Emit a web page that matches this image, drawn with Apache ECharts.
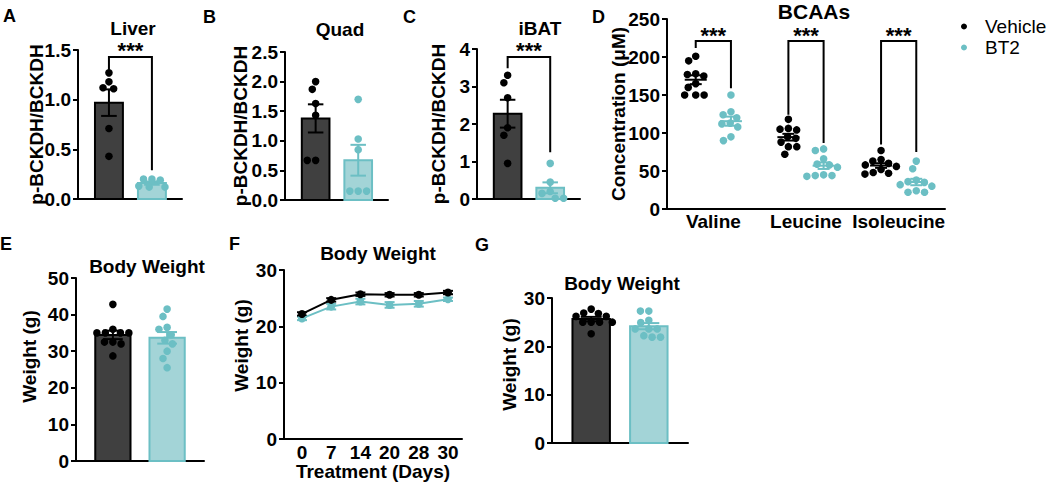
<!DOCTYPE html>
<html><head><meta charset="utf-8">
<script src="https://cdn.jsdelivr.net/npm/echarts@6/dist/echarts.min.js"></script>
<style>html,body{margin:0;padding:0;background:#fff}#c{width:1050px;height:484px}</style>
</head><body><div id="c"></div>
<script>
// ---------------- data ----------------
const groupNames = ['Vehicle', 'BT2'];
const liverVehicle = [1.27, 1.18, 1.11, 1.12, 0.71, 0.43];
const liverBT2 = [0.19, 0.20, 0.20, 0.12, 0.12, 0.13];
const quadVehicle = [2.0, 1.87, 1.63, 1.43, 0.67, 0.67];
const quadBT2 = [1.7, 1.03, 0.85, 0.15, 0.15, 0.15];
const ibatVehicle = [3.3, 3.1, 2.7, 1.9, 1.7, 0.95];
const ibatBT2 = [0.95, 0.45, 0.2, 0.15, 0.02, 0.02];
const bcaaCategories = ['Valine', 'Leucine', 'Isoleucine'];
const valineVehicle = [201, 195, 178, 177, 175, 165, 160, 150, 150, 150];
const valineBT2 = [150, 128, 124, 120, 113, 112, 108, 95, 90];
const leucineVehicle = [118, 106, 105, 104, 95, 93, 88, 82, 82, 72];
const leucineBT2 = [79, 77, 66, 59, 58, 55, 45, 44, 43, 44];
const isoleucineVehicle = [77, 65, 63, 60, 58, 56, 52, 48, 47, 46];
const isoleucineBT2 = [63, 53, 38, 36, 35, 32, 30, 24, 22, 22];
const bodyWeightEVehicle = [42.8, 36, 35, 35, 35, 35, 32.5, 32.5, 32, 28.7];
const bodyWeightEBT2 = [41.5, 39.5, 36.5, 36, 34.5, 33, 32, 30, 28, 25.5];
const treatmentDays = ['0', '7', '14', '20', '28', '30'];
const weightVehicleMean = [22.2, 24.7, 25.7, 25.6, 25.6, 26.0];
const weightVehicleSem = [0.3, 0.3, 0.3, 0.3, 0.3, 0.3];
const weightBT2Mean = [21.4, 23.5, 24.4, 23.8, 24.0, 24.8];
const weightBT2Sem = [0.3, 0.5, 0.5, 0.5, 0.5, 0.3];
const bodyWeightGVehicle = [27.7, 26.8, 26.9, 26.2, 26.2, 25, 25, 25, 25, 22.6];
const bodyWeightGBT2 = [27.3, 27.3, 25.4, 24.9, 23.6, 23.6, 23.6, 21.9, 22.2, 21.9];
// significance brackets: [bracket top, left arm end, right arm end] (data units)
const sigLiver = [1.43, 1.30, 0.29];
const sigIbat = [3.79, 3.49, 1.25];
const sigBcaa = [[221, 212, 159], [221, 124, 87], [221, 85, 75]];
const sigLabel = '***';

// ---------------- helpers ----------------
const FONT = '"Liberation Sans", Arial, sans-serif';
const TEAL = '#6cbfc4', TEAL_FILL = '#a3d4d7', DARK = '#404040';
const R = 3.8;
function mean(a) { return a.reduce((s, v) => s + v, 0) / a.length; }
function sem(a) { const m = mean(a); return Math.sqrt(a.reduce((s, v) => s + (v - m) * (v - m), 0) / (a.length - 1)) / Math.sqrt(a.length); }
function swarm(ys, cx, r) {
  const d = 2 * r + 0.8;
  const order = ys.map((y, i) => i).sort((a, b) => ys[a] - ys[b]);
  const placed = [], xs = new Array(ys.length);
  for (const i of order) {
    const y = ys[i];
    const near = placed.filter(p => Math.abs(p.y - y) < d);
    const cands = [cx];
    near.forEach(p => { const dx = Math.sqrt(d * d - (p.y - y) * (p.y - y)); cands.push(p.x - dx, p.x + dx); });
    cands.sort((a, b) => (Math.abs(a - cx) - Math.abs(b - cx)) || (a - b));
    let x = cx;
    for (const c of cands) { if (near.every(p => (p.x - c) * (p.x - c) + (p.y - y) * (p.y - y) >= d * d - 0.01)) { x = c; break; } }
    placed.push({ x, y }); xs[i] = x;
  }
  return xs;
}
function ln(x1, y1, x2, y2, color) {
  return { type: 'line', shape: { x1, y1, x2, y2 }, style: { stroke: color, lineWidth: 2 } };
}
const axisFont = { fontSize: 19, fontWeight: 'bold', fontFamily: FONT, color: '#000' };
function yAxisCfg(gi, max, interval, name, gap, fmt, pad) {
  return {
    type: 'value', gridIndex: gi, min: 0, max, interval,
    name, nameLocation: 'middle', nameGap: gap, nameMoveOverlap: false,
    nameTextStyle: Object.assign({}, axisFont, { padding: pad || 0 }),
    axisLine: { show: true, onZero: false, lineStyle: { color: '#000', width: 2 } },
    axisTick: { show: true, length: 5, lineStyle: { color: '#000', width: 2 } },
    axisLabel: Object.assign({}, axisFont, { margin: 7, formatter: fmt }),
    splitLine: { show: false }
  };
}
function barXAxis(gi, min, max) {
  return { type: 'value', gridIndex: gi, min, max,
    axisLine: { onZero: false, lineStyle: { color: '#000', width: 2 } },
    axisTick: { show: false }, axisLabel: { show: false }, splitLine: { show: false } };
}
function barSeries(gi, sets) {
  return {
    type: 'custom', name: 'bars' + gi, xAxisIndex: gi, yAxisIndex: gi, z: 3,
    data: sets.map((s, i) => [i, mean(s)]),
    renderItem: (params, api) => {
      const i = params.dataIndex, vals = sets[i];
      const m = mean(vals), s = sem(vals);
      const b = api.coord([i, 0]), t = api.coord([i, m]);
      const w = api.size([0.65, 0])[0];
      const hi = api.coord([i, m + s])[1], lo = api.coord([i, m - s])[1];
      const cw = w * 0.28;
      const col = i === 0 ? '#000' : TEAL;
      const ch = [
        { type: 'rect', shape: { x: b[0] - w / 2, y: t[1], width: w, height: b[1] - t[1] },
          style: { fill: i === 0 ? DARK : TEAL_FILL, stroke: col, lineWidth: 2 } },
        ln(b[0], hi, b[0], lo, col), ln(b[0] - cw, hi, b[0] + cw, hi, col), ln(b[0] - cw, lo, b[0] + cw, lo, col)
      ];
      const ys = vals.map(v => api.coord([i, v])[1]);
      const xs = swarm(ys, b[0], R);
      ys.forEach((y, k) => ch.push({ type: 'circle', shape: { cx: xs[k], cy: y, r: R }, style: { fill: col } }));
      return { type: 'group', children: ch };
    }
  };
}
function sigSeries(gi, brackets, sideFrac) {
  return {
    type: 'custom', name: 'sig' + gi, xAxisIndex: gi, yAxisIndex: gi, z: 5,
    data: brackets.map((b, i) => [i, b[0]]),
    renderItem: (params, api) => {
      const i = params.dataIndex, br = brackets[i];
      let xl, xr;
      if (sideFrac) {
        const c = api.coord([i, br[0]])[0], band = api.size([1, 0])[0];
        xl = c - band * sideFrac; xr = c + band * sideFrac;
      } else {
        xl = api.coord([0, br[0]])[0]; xr = api.coord([1, br[0]])[0];
      }
      const yt = api.coord([0, br[0]])[1], yl = api.coord([0, br[1]])[1], yr = api.coord([0, br[2]])[1];
      return { type: 'group', children: [
        { type: 'polyline', shape: { points: [[xl, yl], [xl, yt], [xr, yt], [xr, yr]] }, style: { stroke: '#000', lineWidth: 2, fill: null } },
        { type: 'text', style: { text: sigLabel, x: (xl + xr) / 2, y: yt + 5, align: 'center', verticalAlign: 'bottom', font: 'bold 22px ' + FONT, fill: '#000' } }
      ] };
    }
  };
}
function bcaaSeries(name, sets, side, color) {
  return {
    type: 'custom', name, xAxisIndex: 3, yAxisIndex: 3, z: 4, itemStyle: { color },
    data: sets.map((s, i) => [i, mean(s)]),
    renderItem: (params, api) => {
      const i = params.dataIndex, vals = sets[i];
      const m = mean(vals), s = sem(vals);
      const c = api.coord([i, m]), band = api.size([1, 0])[0];
      const cx = c[0] + side * band * 0.19;
      const ys = vals.map(v => api.coord([i, v])[1]);
      const xs = swarm(ys, cx, R);
      const ch = ys.map((y, k) => ({ type: 'circle', shape: { cx: xs[k], cy: y, r: R }, style: { fill: color } }));
      const hi = api.coord([i, m + s])[1], lo = api.coord([i, m - s])[1];
      ch.push(ln(cx - 11, c[1], cx + 11, c[1], color), ln(cx, hi, cx, lo, color),
        ln(cx - 6, hi, cx + 6, hi, color), ln(cx - 6, lo, cx + 6, lo, color));
      return { type: 'group', children: ch };
    }
  };
}
function errSeries(means, sems, color) {
  return {
    type: 'custom', name: 'err' + color, xAxisIndex: 5, yAxisIndex: 5, z: 2,
    data: means.map((v, i) => [i, v]),
    renderItem: (params, api) => {
      const i = params.dataIndex, m = means[i], s = sems[i];
      const x = api.coord([i, m])[0], hi = api.coord([i, m + s])[1], lo = api.coord([i, m - s])[1];
      return { type: 'group', children: [ln(x, hi, x, lo, color), ln(x - 5, hi, x + 5, hi, color), ln(x - 5, lo, x + 5, lo, color)] };
    }
  };
}
function txt(text, x, y, size, align) {
  return { type: 'text', x, y, style: { text, font: 'bold ' + size + 'px ' + FONT, fill: '#000', align: align || 'center', verticalAlign: 'middle' } };
}
const f1 = v => v.toFixed(1), f0 = v => String(v);

const grids = [
  { left: 78, top: 50, width: 104, height: 149 },
  { left: 285, top: 52, width: 103, height: 148 },
  { left: 477, top: 49, width: 103, height: 150 },
  { left: 667, top: 19, width: 278, height: 190 },
  { left: 76, top: 278, width: 128, height: 183 },
  { left: 284, top: 270, width: 178, height: 169 },
  { left: 552, top: 298, width: 136, height: 145 }
].map(g => Object.assign({ outerBoundsMode: 'none', containLabel: false }, g));

const option = {
  animation: false,
  backgroundColor: '#fff',
  grid: grids,
  legend: {
    data: [{ name: groupNames[0], icon: 'circle' }, { name: groupNames[1], icon: 'circle' }],
    orient: 'vertical', left: 956, top: 12, itemWidth: 32, itemHeight: 6, itemGap: 2,
    selectedMode: false, textStyle: { fontSize: 19, fontFamily: FONT, color: '#000' }
  },
  xAxis: [
    barXAxis(0, -0.72, 1.7), barXAxis(1, -0.72, 1.7), barXAxis(2, -0.72, 1.7),
    { type: 'category', gridIndex: 3, data: bcaaCategories,
      axisLine: { onZero: false, lineStyle: { color: '#000', width: 2 } }, axisTick: { show: false },
      axisLabel: Object.assign({}, axisFont, { margin: 3, interval: 0 }) },
    barXAxis(4, -0.68, 1.68),
    { type: 'value', gridIndex: 5, min: -0.616, max: 5.48,
      name: 'Treatment (Days)', nameLocation: 'middle', nameGap: 23, nameMoveOverlap: false, nameTextStyle: axisFont,
      axisLine: { onZero: false, lineStyle: { color: '#000', width: 2 } }, axisTick: { show: false },
      splitLine: { show: false },
      axisLabel: Object.assign({}, axisFont, { margin: 4, customValues: treatmentDays.map((d, i) => i), formatter: v => treatmentDays[v] }) },
    barXAxis(6, -0.68, 1.68)
  ],
  yAxis: [
    yAxisCfg(0, 1.5, 0.5, 'p-BCKDH/BCKDH', 32, f1),
    yAxisCfg(1, 2.5, 0.5, 'p-BCKDH/BCKDH', 35, f1),
    yAxisCfg(2, 4, 1, 'p-BCKDH/BCKDH', 29, f0),
    yAxisCfg(3, 250, 50, 'Concentration (μM)', 39, f0),
    yAxisCfg(4, 50, 10, 'Weight (g)', 37, f0, [0, 0, 0, 26]),
    yAxisCfg(5, 30, 10, 'Weight (g)', 33, f0, [0, 0, 0, 18]),
    yAxisCfg(6, 30, 10, 'Weight (g)', 33, f0, [0, 0, 0, 12])
  ],
  series: [
    barSeries(0, [liverVehicle, liverBT2]), sigSeries(0, [sigLiver]),
    barSeries(1, [quadVehicle, quadBT2]),
    barSeries(2, [ibatVehicle, ibatBT2]), sigSeries(2, [sigIbat]),
    bcaaSeries(groupNames[0], [valineVehicle, leucineVehicle, isoleucineVehicle], -1, '#000'),
    bcaaSeries(groupNames[1], [valineBT2, leucineBT2, isoleucineBT2], 1, TEAL),
    sigSeries(3, sigBcaa, 0.19),
    barSeries(4, [bodyWeightEVehicle, bodyWeightEBT2]),
    errSeries(weightBT2Mean, weightBT2Sem, TEAL),
    errSeries(weightVehicleMean, weightVehicleSem, '#000'),
    { type: 'line', name: 'F ' + groupNames[1], xAxisIndex: 5, yAxisIndex: 5, z: 3,
      data: weightBT2Mean.map((v, i) => [i, v]), symbol: 'circle', symbolSize: 8, showSymbol: true,
      itemStyle: { color: TEAL }, lineStyle: { color: TEAL, width: 2 } },
    { type: 'line', name: 'F ' + groupNames[0], xAxisIndex: 5, yAxisIndex: 5, z: 4,
      data: weightVehicleMean.map((v, i) => [i, v]), symbol: 'circle', symbolSize: 8, showSymbol: true,
      itemStyle: { color: '#000' }, lineStyle: { color: '#000', width: 2 } },
    barSeries(6, [bodyWeightGVehicle, bodyWeightGBT2])
  ],
  graphic: [
    txt('A', 3, 16, 18, 'left'), txt('B', 203, 17, 18, 'left'), txt('C', 403, 17, 18, 'left'),
    txt('D', 592, 17, 18, 'left'), txt('E', 0, 244, 18, 'left'), txt('F', 229, 244, 18, 'left'),
    txt('G', 475, 245, 18, 'left'),
    txt('Liver', 133, 28, 19), txt('Quad', 340, 29, 19), txt('iBAT', 540, 28, 19),
    txt('BCAAs', 814, 11.5, 21), txt('Body Weight', 147, 266, 19), txt('Body Weight', 378, 253, 19),
    txt('Body Weight', 622, 283, 19)
  ]
};
const chart = echarts.init(document.getElementById('c'), null, { renderer: 'svg' });
chart.setOption(option);
</script>
</body></html>
